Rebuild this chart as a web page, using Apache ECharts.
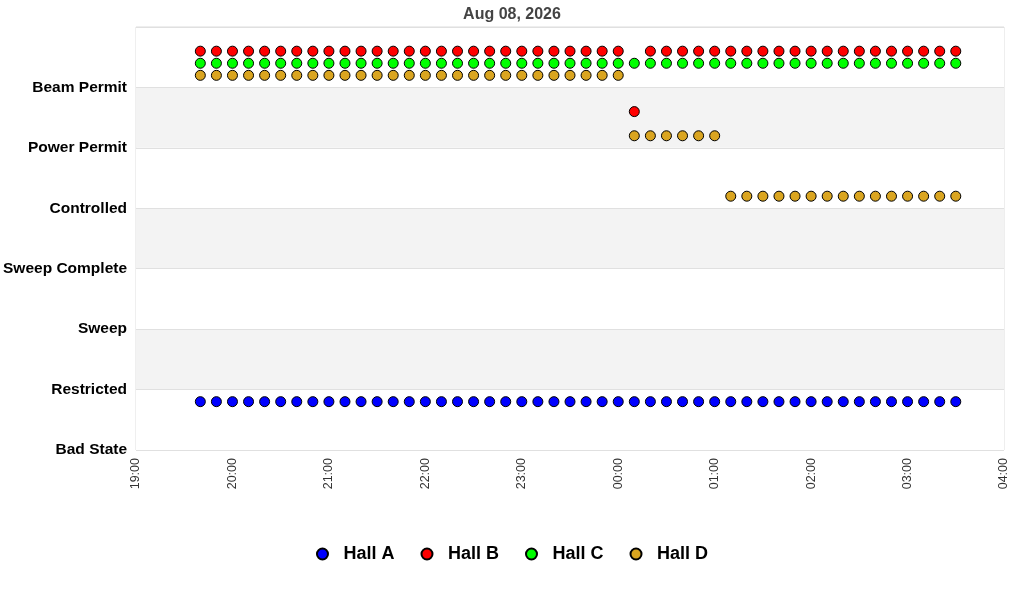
<!DOCTYPE html>
<html>
<head>
<meta charset="utf-8">
<script src="https://cdn.jsdelivr.net/npm/echarts@6/dist/echarts.min.js"></script>
<style>html,body{margin:0;padding:0;background:#fff}#c{width:1024px;height:600px}</style>
</head>
<body>
<div id="c"></div>
<script>
var title = 'Aug 08, 2026';
var states = ['Bad State', 'Restricted', 'Sweep', 'Sweep Complete', 'Controlled', 'Power Permit', 'Beam Permit'];
var xTickLabels = ['19:00', '20:00', '21:00', '22:00', '23:00', '00:00', '01:00', '02:00', '03:00', '04:00'];
var times = [
  '19:40','19:50','20:00','20:10','20:20','20:30','20:40','20:50',
  '21:00','21:10','21:20','21:30','21:40','21:50',
  '22:00','22:10','22:20','22:30','22:40','22:50',
  '23:00','23:10','23:20','23:30','23:40','23:50',
  '00:00','00:10','00:20','00:30','00:40','00:50',
  '01:00','01:10','01:20','01:30','01:40','01:50',
  '02:00','02:10','02:20','02:30','02:40','02:50',
  '03:00','03:10','03:20','03:30'
];
var hallNames = ['Hall A', 'Hall B', 'Hall C', 'Hall D'];
var hallA = [
  'Restricted','Restricted','Restricted','Restricted','Restricted','Restricted','Restricted','Restricted',
  'Restricted','Restricted','Restricted','Restricted','Restricted','Restricted',
  'Restricted','Restricted','Restricted','Restricted','Restricted','Restricted',
  'Restricted','Restricted','Restricted','Restricted','Restricted','Restricted',
  'Restricted','Restricted','Restricted','Restricted','Restricted','Restricted',
  'Restricted','Restricted','Restricted','Restricted','Restricted','Restricted',
  'Restricted','Restricted','Restricted','Restricted','Restricted','Restricted',
  'Restricted','Restricted','Restricted','Restricted'
];
var hallB = [
  'Beam Permit','Beam Permit','Beam Permit','Beam Permit','Beam Permit','Beam Permit','Beam Permit','Beam Permit',
  'Beam Permit','Beam Permit','Beam Permit','Beam Permit','Beam Permit','Beam Permit',
  'Beam Permit','Beam Permit','Beam Permit','Beam Permit','Beam Permit','Beam Permit',
  'Beam Permit','Beam Permit','Beam Permit','Beam Permit','Beam Permit','Beam Permit',
  'Beam Permit','Power Permit','Beam Permit','Beam Permit','Beam Permit','Beam Permit',
  'Beam Permit','Beam Permit','Beam Permit','Beam Permit','Beam Permit','Beam Permit',
  'Beam Permit','Beam Permit','Beam Permit','Beam Permit','Beam Permit','Beam Permit',
  'Beam Permit','Beam Permit','Beam Permit','Beam Permit'
];
var hallC = [
  'Beam Permit','Beam Permit','Beam Permit','Beam Permit','Beam Permit','Beam Permit','Beam Permit','Beam Permit',
  'Beam Permit','Beam Permit','Beam Permit','Beam Permit','Beam Permit','Beam Permit',
  'Beam Permit','Beam Permit','Beam Permit','Beam Permit','Beam Permit','Beam Permit',
  'Beam Permit','Beam Permit','Beam Permit','Beam Permit','Beam Permit','Beam Permit',
  'Beam Permit','Beam Permit','Beam Permit','Beam Permit','Beam Permit','Beam Permit',
  'Beam Permit','Beam Permit','Beam Permit','Beam Permit','Beam Permit','Beam Permit',
  'Beam Permit','Beam Permit','Beam Permit','Beam Permit','Beam Permit','Beam Permit',
  'Beam Permit','Beam Permit','Beam Permit','Beam Permit'
];
var hallD = [
  'Beam Permit','Beam Permit','Beam Permit','Beam Permit','Beam Permit','Beam Permit','Beam Permit','Beam Permit',
  'Beam Permit','Beam Permit','Beam Permit','Beam Permit','Beam Permit','Beam Permit',
  'Beam Permit','Beam Permit','Beam Permit','Beam Permit','Beam Permit','Beam Permit',
  'Beam Permit','Beam Permit','Beam Permit','Beam Permit','Beam Permit','Beam Permit',
  'Beam Permit','Power Permit','Power Permit','Power Permit','Power Permit','Power Permit',
  'Power Permit','Controlled','Controlled','Controlled','Controlled','Controlled',
  'Controlled','Controlled','Controlled','Controlled','Controlled','Controlled',
  'Controlled','Controlled','Controlled','Controlled'
];

var hallData = [hallA, hallB, hallC, hallD];
var hallColors = ['#0000ff', '#ff0000', '#00ff00', '#daa520'];
var hallOffsets = [-0.2, 0.6, 0.4, 0.2];

// minutes since 19:00 for a "HH:MM" string
function toMinutes(t) {
  var p = t.split(':');
  var h = parseInt(p[0], 10), m = parseInt(p[1], 10);
  if (h < 19) h += 24;
  return (h - 19) * 60 + m;
}

var series = hallNames.map(function (name, i) {
  return {
    name: name,
    type: 'scatter',
    symbol: 'circle',
    symbolSize: 10,
    itemStyle: { color: hallColors[i], borderColor: '#000', borderWidth: 1, opacity: 1 },
    data: times.map(function (t, k) {
      return [toMinutes(t), states.indexOf(hallData[i][k]) + hallOffsets[i]];
    })
  };
});

var chart = echarts.init(document.getElementById('c'), null, { renderer: 'canvas' });
chart.setOption({
  animation: false,
  backgroundColor: '#fff',
  title: {
    text: title, left: 'center', top: 2,
    textStyle: { fontFamily: 'Liberation Sans, Arial, sans-serif', fontSize: 16, fontWeight: 'bold', color: '#444' }
  },
  legend: {
    data: hallNames.map(function (n) { return { name: n, icon: 'circle' }; }),
    top: 540, left: 'center',
    itemWidth: 32, itemHeight: 11, itemGap: 26,
    textStyle: { fontFamily: 'Liberation Sans, Arial, sans-serif', fontSize: 18, fontWeight: 'bold', color: '#000' }
  },
  grid: {
    left: 136, right: 20, top: 27, bottom: 150,
    show: true, borderColor: '#dddddd', borderWidth: 1, backgroundColor: 'transparent'
  },
  xAxis: {
    type: 'value', min: 0, max: 540, interval: 60,
    axisLine: { show: false }, axisTick: { show: false },
    splitLine: { show: false },
    axisLabel: {
      rotate: 90, margin: 8, color: '#333', fontSize: 12.5,
      fontFamily: 'Liberation Sans, Arial, sans-serif',
      formatter: function (v) { return xTickLabels[Math.round(v / 60)] || ''; }
    }
  },
  yAxis: {
    type: 'value', min: 0, max: 7, interval: 1,
    axisLine: { show: false }, axisTick: { show: false },
    splitLine: { show: true, lineStyle: { color: '#e0e0e0', width: 1 } },
    splitArea: { show: true, areaStyle: { color: ['#ffffff', '#f3f3f3'] } },
    axisLabel: {
      margin: 9, color: '#000', fontSize: 15.5, fontWeight: 'bold',
      fontFamily: 'Liberation Sans, Arial, sans-serif',
      formatter: function (v) { return states[v] || ''; }
    }
  },
  series: series
});
</script>
</body>
</html>
